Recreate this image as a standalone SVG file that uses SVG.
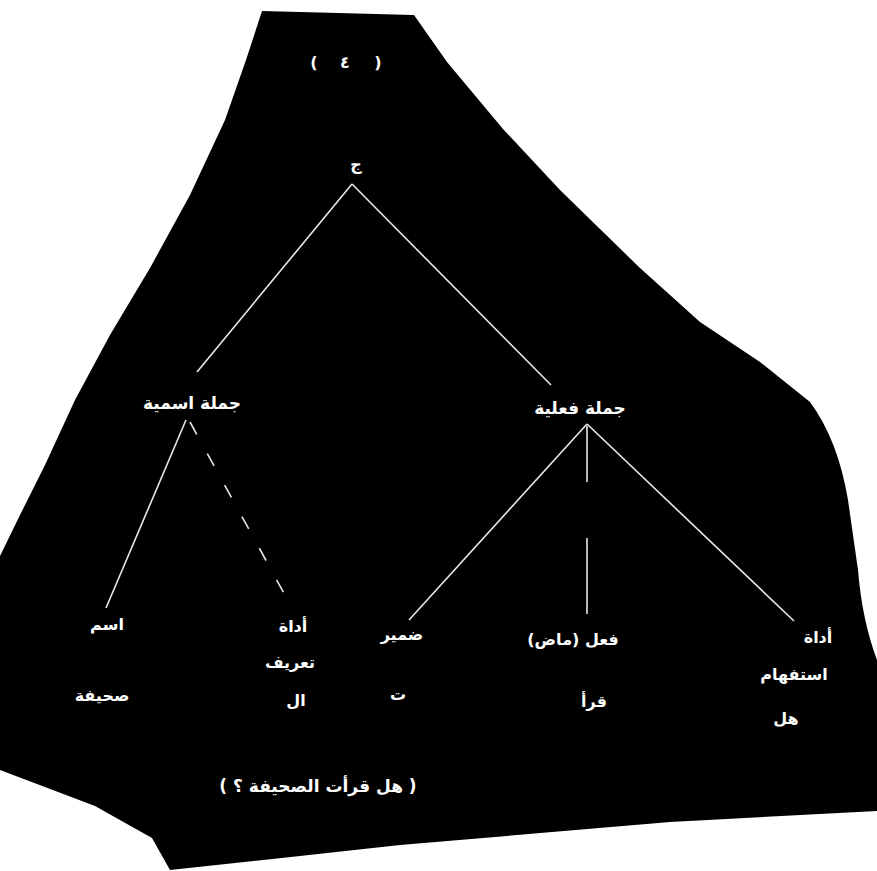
<svg xmlns="http://www.w3.org/2000/svg" width="877" height="871" viewBox="0 0 877 871">
<style>
.t{font-family:"DejaVu Sans","Noto Sans",sans-serif;font-size:16px;font-weight:bold;fill:#fff;text-anchor:middle}
.p{font-family:"DejaVu Sans",sans-serif;font-size:16px;font-weight:bold;fill:#fff;text-anchor:middle;direction:ltr;unicode-bidi:embed}
.e{stroke:#e8e8e8;stroke-width:1.6;fill:none}
</style>
<rect width="877" height="871" fill="#fff"/>
<path id="bg" d="M262,11 L414,15 L447,62 L503,129 L560,190 L640,268 L700,322 L760,362 L810,402 Q838,440 848,500 L858,570 Q862,620 877,660 L877,811 L670,822 L400,845 L300,856 L170,870 L152,838 L95,806 L0,770 L0,556 L20,515 L45,465 L75,400 L110,335 L150,268 L190,195 L225,120 L246,60 Z" fill="#000"/>
<g id="connectors">
<line class="e" x1="352" y1="184" x2="197" y2="372"/>
<line class="e" x1="352" y1="184" x2="551" y2="385"/>
<line class="e" x1="186" y1="420" x2="106" y2="608"/>
<line class="e" x1="190" y1="422" x2="291" y2="606" stroke-dasharray="14 22"/>
<line class="e" x1="587" y1="424" x2="409" y2="620"/>
<line class="e" x1="587" y1="426" x2="587" y2="482"/>
<line class="e" x1="587" y1="538" x2="587" y2="614"/>
<line class="e" x1="587" y1="424" x2="794" y2="621"/>
</g>
<g id="title"><text class="p" x="314" y="68">(</text><text class="t" x="345" y="68">٤</text><text class="p" x="378" y="68">)</text></g>
<g id="root"><text class="t" x="356" y="170">ج</text></g>
<g id="n-ismiya"><text class="t" x="192" y="409" style="font-size:17px">جملة اسمية</text></g>
<g id="n-filiya"><text class="t" x="580" y="414" style="font-size:17px">جملة فعلية</text></g>
<g id="l-ism"><text class="t" x="107" y="630">اسم</text><text class="t" x="102" y="701">صحيفة</text></g>
<g id="l-tarif"><text class="t" x="293" y="632">أداة</text><text class="t" x="290" y="668">تعريف</text><text class="t" x="296" y="706">ال</text></g>
<g id="l-damir"><text class="t" x="402" y="640">ضمير</text><text class="t" x="398" y="700">ت</text></g>
<g id="l-fil"><text class="t" x="573" y="645">فعل (ماض)</text><text class="t" x="594" y="707">قرأ</text></g>
<g id="l-istifham"><text class="t" x="818" y="643">أداة</text><text class="t" x="794" y="680">استفهام</text><text class="t" x="786" y="724">هل</text></g>
<g id="sentence"><text class="t" x="318" y="792" style="font-size:17px">( هل قرأت الصحيفة ؟ )</text></g>
</svg>
